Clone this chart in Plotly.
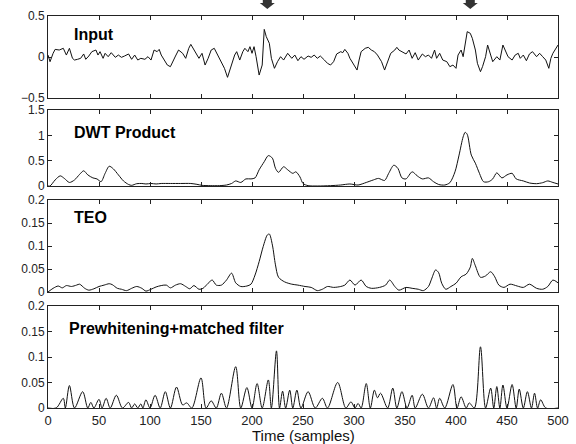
import plotly.graph_objects as go
from plotly.subplots import make_subplots

# ---------------- data ----------------
input_x = [0, 2, 5, 7, 11, 15, 18, 21, 24, 26,
           29, 32, 35, 37, 40, 43, 47, 49, 51, 54,
           56, 59, 62, 66, 69, 72, 75, 79, 82, 85,
           88, 91, 95, 98, 101, 104, 107, 109, 111, 114,
           117, 120, 122, 125, 128, 132, 135, 138, 140, 143,
           148, 151, 154, 157, 160, 163, 167, 170, 173, 176,
           180, 183, 185, 188, 191, 193, 196, 198, 200, 202,
           204, 207, 210, 211, 212, 214, 217, 219, 222, 225,
           228, 231, 235, 239, 242, 245, 248, 251, 255, 258,
           261, 264, 267, 271, 274, 277, 280, 283, 287, 289,
           291, 294, 296, 300, 303, 305, 307, 311, 314, 317,
           320, 323, 327, 330, 333, 336, 340, 342, 344, 347,
           351, 354, 357, 360, 363, 367, 370, 373, 376, 379,
           381, 384, 387, 391, 394, 397, 400, 402, 405, 407,
           409, 411, 414, 416, 419, 421, 424, 426, 429, 431,
           434, 436, 440, 443, 446, 448, 451, 455, 458, 461,
           463, 466, 469, 472, 475, 479, 482, 485, 488, 491,
           493, 495, 498, 500]
input_y = [0.024, -0.057, 0.045, 0.093, 0.085, 0.106, 0.024, 0.106, -0.016, -0.037,
           -0.028, -0.016, 0.037, -0.028, 0.012, 0.065, 0.085, 0.024, 0.065, -0.016,
           0.045, 0.004, 0.053, -0.004, 0.024, -0.004, 0.012, 0.037, -0.028, 0.024,
           -0.037, -0.016, -0.028, 0.004, -0.037, 0.085, 0.065, 0.093, 0.024, -0.037,
           -0.098, -0.118, -0.057, 0.012, 0.085, 0.045, -0.016, 0.106, 0.154, 0.085,
           -0.016, 0.045, -0.098, -0.016, 0.085, 0.106, 0.004, -0.057, -0.138, -0.248,
           -0.098, 0.024, 0.065, -0.037, 0.065, 0.106, 0.065, 0.126, 0.045, 0.126,
           0.004, -0.220, -0.098, 0.167, 0.337, 0.248, 0.167, -0.016, -0.138, -0.057,
           0.004, -0.037, 0.045, -0.016, 0.024, -0.045, 0.004, -0.028, 0.012, -0.004,
           0.024, -0.016, 0.012, -0.037, -0.077, -0.098, -0.057, 0.037, 0.065, 0.053,
           0.093, 0.045, -0.016, -0.098, -0.159, -0.037, 0.065, 0.106, 0.118, 0.085,
           0.065, 0.024, -0.057, -0.159, -0.057, 0.045, 0.085, 0.118, 0.085, 0.065,
           0.037, 0.085, -0.016, 0.053, -0.037, 0.037, 0.004, 0.024, -0.016, 0.085,
           -0.016, 0.045, -0.037, -0.057, -0.118, -0.098, -0.138, 0.024, 0.085, 0.004,
           0.167, 0.309, 0.289, 0.228, 0.085, -0.077, -0.179, -0.118, 0.004, 0.146,
           0.024, -0.057, 0.004, -0.037, 0.146, 0.085, 0.004, -0.037, 0.024, 0.045,
           -0.016, 0.024, -0.045, 0.037, 0.065, 0.004, 0.045, 0.004, -0.037, -0.138,
           -0.016, 0.045, 0.106, 0.146]

dwt_x = [0, 2, 7, 12, 16, 21, 26, 31, 35, 39,
         44, 48, 52, 56, 60, 64, 69, 74, 79, 82,
         87, 92, 96, 101, 106, 111, 120, 130, 140, 146,
         151, 159, 168, 175, 180, 184, 189, 194, 199, 203,
         207, 212, 216, 220, 223, 226, 231, 235, 240, 243,
         247, 250, 255, 264, 277, 287, 296, 304, 312, 319,
         324, 330, 334, 339, 343, 347, 351, 357, 362, 367,
         373, 378, 383, 389, 394, 399, 403, 407, 409, 411,
         415, 419, 423, 427, 432, 436, 440, 445, 450, 455,
         459, 466, 472, 479, 485, 490, 495, 500]
dwt_y = [0.0, 0.0, 0.12, 0.2, 0.15, 0.07, 0.12, 0.23, 0.30, 0.22,
         0.16, 0.14, 0.085, 0.25, 0.39, 0.34, 0.22, 0.1, 0.03, 0.013,
         0.046, 0.05, 0.04, 0.05, 0.04, 0.05, 0.05, 0.05, 0.05, 0.033,
         0.013, 0.007, 0.007, 0.02, 0.05, 0.1, 0.07, 0.14, 0.14, 0.16,
         0.32, 0.48, 0.6, 0.55, 0.35, 0.27, 0.38, 0.32, 0.25, 0.28,
         0.18, 0.05, 0.007, 0.0, 0.007, 0.02, 0.04, 0.02, 0.07, 0.12,
         0.15, 0.11, 0.25, 0.41, 0.35, 0.16, 0.14, 0.28, 0.2, 0.14,
         0.16, 0.085, 0.03, 0.02, 0.066, 0.28, 0.61, 0.97, 1.06, 1.02,
         0.61, 0.45, 0.25, 0.085, 0.085, 0.14, 0.26, 0.16, 0.22, 0.25,
         0.14, 0.1, 0.06, 0.046, 0.066, 0.1, 0.07, 0.04]

teo_x = [0, 5, 10, 14, 18, 23, 28, 31, 36, 40,
         45, 50, 55, 60, 63, 68, 72, 77, 82, 87,
         92, 96, 101, 106, 111, 116, 120, 125, 130, 135,
         139, 143, 148, 152, 157, 161, 165, 170, 175, 180,
         184, 189, 195, 199, 203, 207, 211, 215, 217, 220,
         223, 226, 232, 239, 245, 252, 258, 264, 269, 274,
         280, 287, 291, 296, 301, 307, 312, 317, 325, 331,
         335, 340, 344, 351, 357, 363, 368, 373, 376, 380,
         383, 386, 390, 395, 400, 405, 410, 414, 416, 419,
         424, 429, 434, 438, 442, 447, 453, 460, 466, 472,
         479, 485, 490, 495, 500]
teo_y = [0.0, 0.008, 0.013, 0.009, 0.014, 0.012, 0.015, 0.017, 0.008, 0.004,
         0.007, 0.012, 0.015, 0.018, 0.016, 0.008, 0.006, 0.003, 0.008, 0.012,
         0.008, 0.002, 0.006, 0.011, 0.014, 0.015, 0.009, 0.015, 0.018, 0.012,
         0.007, 0.014, 0.006, 0.008, 0.019, 0.026, 0.015, 0.015, 0.026, 0.041,
         0.02, 0.012, 0.013, 0.017, 0.037, 0.066, 0.099, 0.124, 0.126, 0.102,
         0.059, 0.032, 0.022, 0.017, 0.015, 0.012, 0.01, 0.003, 0.006, 0.012,
         0.01, 0.012, 0.015, 0.026, 0.015, 0.026, 0.012, 0.008, 0.01, 0.015,
         0.026, 0.012, 0.004, 0.01, 0.008, 0.006, 0.003, 0.012, 0.028, 0.048,
         0.042, 0.019, 0.006, 0.012, 0.019, 0.033, 0.039, 0.054, 0.073, 0.057,
         0.032, 0.035, 0.044, 0.033, 0.015, 0.01, 0.017, 0.013, 0.01, 0.017,
         0.008, 0.006, 0.012, 0.026, 0.02]

pw_x = [0, 8, 15, 17, 21, 26, 34, 39, 42, 45,
        50, 53, 57, 61, 67, 73, 79, 82, 85, 88,
        91, 93, 96, 100, 105, 110, 115, 120, 126, 132,
        136, 141, 150, 155, 160, 165, 170, 175, 184, 189,
        195, 200, 205, 210, 216, 219, 224, 227, 230, 233,
        237, 240, 244, 248, 255, 262, 269, 274, 284, 292,
        297, 301, 304, 307, 312, 316, 320, 323, 326, 333,
        338, 342, 347, 352, 357, 360, 367, 373, 378, 381,
        384, 389, 397, 401, 405, 410, 413, 418, 424, 429,
        434, 437, 440, 443, 446, 450, 455, 459, 462, 466,
        470, 474, 477, 480, 483, 488, 500]
pw_y = [0.0, 0.0, 0.019, 0.0, 0.044, 0.0, 0.032, 0.0, 0.011, 0.0,
        0.017, 0.0, 0.019, 0.0, 0.025, 0.0, 0.011, 0.0, 0.008, 0.0,
        0.008, 0.0, 0.016, 0.0, 0.025, 0.0, 0.032, 0.0, 0.041, 0.006,
        0.01, 0.0, 0.059, 0.0, 0.014, 0.0, 0.029, 0.0, 0.081, 0.0,
        0.04, 0.0, 0.048, 0.0, 0.055, 0.0, 0.112, 0.0, 0.033, 0.0,
        0.035, 0.0, 0.035, 0.0, 0.032, 0.0, 0.019, 0.0, 0.05, 0.0,
        0.012, 0.0, 0.009, 0.0, 0.048, 0.0, 0.035, 0.02, 0.029, 0.0,
        0.039, 0.0, 0.032, 0.0, 0.025, 0.0, 0.027, 0.0, 0.02, 0.0,
        0.019, 0.0, 0.046, 0.0, 0.022, 0.0, 0.01, 0.0, 0.12, 0.0,
        0.039, 0.0, 0.042, 0.0, 0.045, 0.0, 0.046, 0.0, 0.037, 0.0,
        0.032, 0.0, 0.029, 0.0, 0.016, 0.0, 0.0]

panel_labels = ["Input", "DWT Product", "TEO", "Prewhitening+matched filter"]
arrow_positions = [215, 414]
x_title = "Time (samples)"

# ---------------- figure ----------------
FONT = "Liberation Sans, Arial, Helvetica, sans-serif"
fig = make_subplots(rows=4, cols=1)

fig.add_trace(go.Scatter(x=input_x, y=input_y, mode="lines",
                         line=dict(color="#111", width=1)), row=1, col=1)
fig.add_trace(go.Scatter(x=dwt_x, y=dwt_y, mode="lines",
                         line=dict(color="#111", width=1, shape="spline", smoothing=0.8)), row=2, col=1)
fig.add_trace(go.Scatter(x=teo_x, y=teo_y, mode="lines",
                         line=dict(color="#111", width=1, shape="spline", smoothing=0.8)), row=3, col=1)
fig.add_trace(go.Scatter(x=pw_x, y=pw_y, mode="lines",
                         line=dict(color="#111", width=1, shape="spline", smoothing=0.9)), row=4, col=1)

domains = [[0.7908, 1.0], [0.5663, 0.7602], [0.2959, 0.5306], [0.0, 0.2602]]
yranges = [[-0.5, 0.5], [0, 1.5], [0, 0.2], [0, 0.2]]
ydticks = [0.5, 0.5, 0.05, 0.05]
label_y = [0.954, 0.703, 0.485, 0.204]
label_x = [0.048, 0.048, 0.048, 0.038]

axis_common = dict(showline=True, linecolor="#222", linewidth=1, mirror="ticks",
                   ticks="inside", ticklen=4, tickcolor="#222", showgrid=False,
                   zeroline=False)

for i in range(4):
    fig.update_yaxes(row=i + 1, col=1, domain=domains[i], range=yranges[i],
                     dtick=ydticks[i], tick0=0,
                     tickfont=dict(family=FONT, size=12, color="#222"), **axis_common)
    fig.update_xaxes(row=i + 1, col=1, range=[0, 500], dtick=50, tick0=0,
                     showticklabels=(i == 3), ticklabeloverflow="allow",
                     tickfont=dict(family=FONT, size=13, color="#222"), **axis_common)
    fig.add_annotation(x=label_x[i], y=label_y[i], xref="paper", yref="paper",
                       text="<b>%s</b>" % panel_labels[i], showarrow=False,
                       xanchor="left", yanchor="middle",
                       font=dict(family=FONT, size=16, color="#000"))

fig.add_annotation(x=0.5, y=-0.069, xref="paper", yref="paper", text=x_title,
                   showarrow=False, xanchor="center", yanchor="middle",
                   font=dict(family=FONT, size=15, color="#111"))

for xp in arrow_positions:
    fig.add_shape(type="path", xref="x", yref="paper", xsizemode="pixel",
                  ysizemode="pixel", xanchor=xp, yanchor=1,
                  path="M-4.5,16 L4.5,16 L4.5,13 L7.5,13 L0,7 L-7.5,13 L-4.5,13 Z",
                  fillcolor="#333", line=dict(width=0))

fig.update_layout(width=576, height=444, showlegend=False,
                  margin=dict(l=48, r=7, t=16, b=36),
                  plot_bgcolor="white", paper_bgcolor="white",
                  font=dict(family=FONT, size=13, color="#222"))

fig.write_html("out.html", config={"displayModeBar": False},
               post_script="document.body.style.margin='0';document.body.style.overflow='hidden';")
